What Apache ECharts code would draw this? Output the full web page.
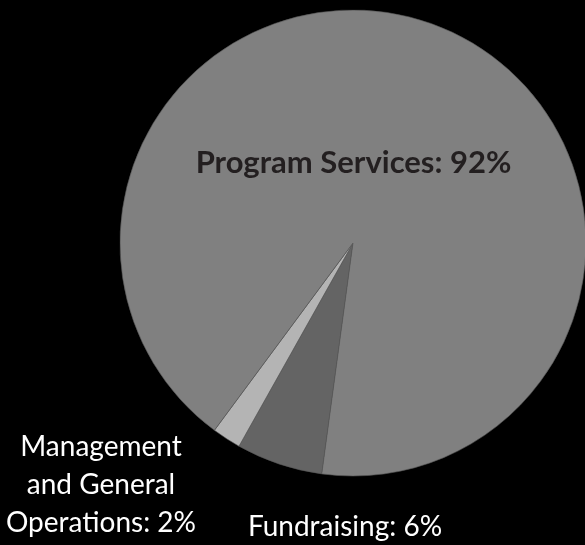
<!DOCTYPE html>
<html><head><meta charset="utf-8">
<script src="https://cdn.jsdelivr.net/npm/echarts@6/dist/echarts.min.js"></script>
<style>html,body{margin:0;padding:0;background:#000;}#c{width:585px;height:545px;}</style>
</head><body><div id="c"></div>
<script>
const categories = ['Fundraising', 'Management\nand General\nOperations', 'Program Services'];
const values = [6, 2, 92];
const colors = ['#646464', '#b4b4b4', '#808080'];
const labelPos = [[345, 527], [101, 484.5], [353.5, 163]];

const chart = echarts.init(document.getElementById('c'), null, {renderer: 'canvas'});
chart.setOption({
  backgroundColor: '#000',
  animation: false,
  series: [{
    type: 'pie',
    center: [353, 243],
    radius: 233,
    startAngle: 262.3,
    clockwise: true,
    avoidLabelOverlap: false,
    itemStyle: {borderColor: '#555', borderWidth: 0.6},
    labelLine: {show: false},
    label: {
      show: true,
      position: 'outside',
      formatter: p => p.name + ': ' + p.value + '%',
      fontFamily: 'Lato',
      fontSize: 28,
      lineHeight: 38,
      color: '#fff',
      align: 'center'
    },
    labelLayout: params => ({
      x: labelPos[params.dataIndex][0],
      y: labelPos[params.dataIndex][1],
      align: 'center',
      verticalAlign: 'middle'
    }),
    data: categories.map((c, i) => ({
      name: c,
      value: values[i],
      itemStyle: {color: colors[i]},
      label: i === 2 ? {color: '#231f20', fontWeight: 'bold', fontSize: 31} : {}
    }))
  }]
});
</script></body></html>
